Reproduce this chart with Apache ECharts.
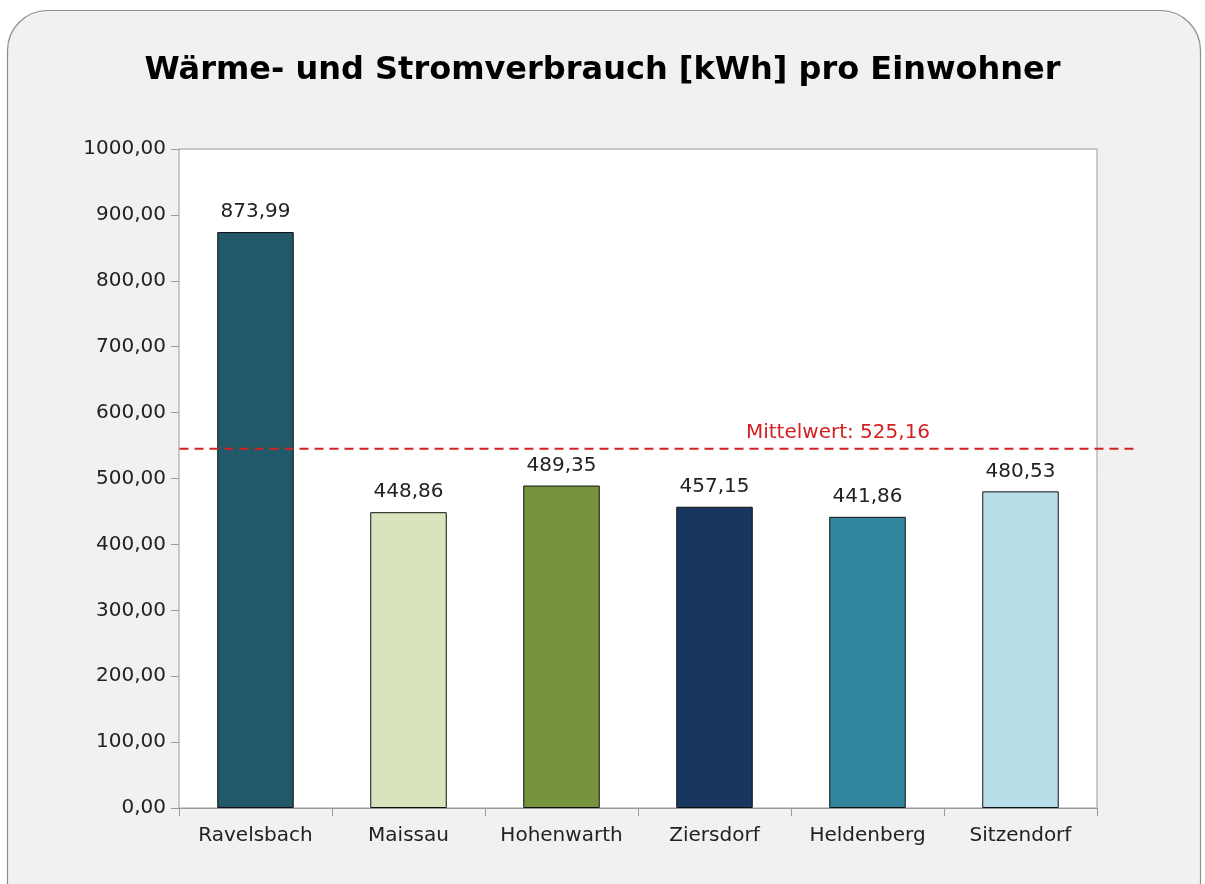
<!DOCTYPE html>
<html>
<head>
<meta charset="utf-8">
<script src="https://cdn.jsdelivr.net/npm/echarts@6/dist/echarts.min.js"></script>
<style>
  html, body { margin: 0; padding: 0; background: #fff; }
  #chart { width: 1205px; height: 884px; }
</style>
</head>
<body>
<div id="chart"></div>
<script>
var categories = ['Ravelsbach', 'Maissau', 'Hohenwarth', 'Ziersdorf', 'Heldenberg', 'Sitzendorf'];
var values = [873.99, 448.86, 489.35, 457.15, 441.86, 480.53];
var barColors = ['#215968', '#d7e4bd', '#77933c', '#17375e', '#31859c', '#b7dee8'];
var meanLabel = 'Mittelwert: 525,16';
var meanLineAt = 545;   // where the dashed line sits in the picture
var yTicks = [0, 100, 200, 300, 400, 500, 600, 700, 800, 900, 1000];

var fontName = 'DejaVu Sans';

function fmt(v) {
    return v.toFixed(2).replace('.', ',');
}

var chart = echarts.init(document.getElementById('chart'));
var option = {
    backgroundColor: '#fff',
    animation: false,
    title: {
        text: 'Wärme- und Stromverbrauch [kWh] pro Einwohner',
        left: 'center',
        top: 50,
        textStyle: { fontFamily: fontName, fontWeight: 'bold', fontSize: 32, color: '#000' }
    },
    grid: {
        left: 179, right: 108, top: 149, bottom: 76,
        show: true,
        backgroundColor: '#fff',
        borderColor: '#9a9a9a',
        borderWidth: 1,
        z: 1
    },
    xAxis: {
        type: 'category',
        data: categories,
        axisLine: { lineStyle: { color: '#9a9a9a' } },
        axisTick: { show: true, interval: 0, length: 8, lineStyle: { color: '#9a9a9a' } },
        axisLabel: { interval: 0, fontFamily: fontName, fontSize: 20, color: '#222', margin: 18 }
    },
    yAxis: {
        type: 'value',
        min: yTicks[0],
        max: yTicks[yTicks.length - 1],
        interval: 100,
        axisLine: { show: true, lineStyle: { color: '#9a9a9a' } },
        axisTick: { show: true, length: 8, lineStyle: { color: '#9a9a9a' } },
        splitLine: { lineStyle: { color: '#a6a6a6' } },
        axisLabel: { fontFamily: fontName, fontSize: 20, color: '#222', margin: 13,
            formatter: function (v) { return fmt(v); } }
    },
    series: [{
        type: 'bar',
        barWidth: '50%',
        data: values.map(function (v, i) {
            return { value: v, itemStyle: { color: barColors[i] } };
        }),
        itemStyle: { borderColor: '#111', borderWidth: 1 },
        label: {
            show: true,
            position: 'top',
            distance: 8,
            fontFamily: fontName,
            fontSize: 20,
            color: '#222',
            backgroundColor: '#fff',
            padding: [2, 8],
            formatter: function (p) { return fmt(p.value); }
        }
    }]
};
chart.setOption(option);

// outer rounded frame, dashed mean line and its label, placed via the chart's scales
var yMean = chart.convertToPixel({ yAxisIndex: 0 }, meanLineAt);
var xLeft = chart.convertToPixel({ xAxisIndex: 0 }, categories[0]) - 76;
chart.setOption({
    graphic: [
        {
            type: 'rect', z: -10, silent: true,
            shape: { x: 7.5, y: 10.5, width: 1193, height: 920, r: 40 },
            style: { fill: '#f1f1f1', stroke: '#8c8c8c', lineWidth: 1.2 }
        },
        {
            type: 'line', z: 100, silent: true,
            shape: { x1: xLeft, y1: yMean, x2: 1137, y2: yMean },
            style: { stroke: '#d42020', lineWidth: 2, lineDash: [9, 6] }
        },
        {
            type: 'text', z: 100, silent: true,
            x: 838, y: yMean - 6,
            style: { text: meanLabel, fill: '#d42020', font: '20px "' + fontName + '"',
                     textAlign: 'center', textVerticalAlign: 'bottom' }
        }
    ]
});
</script>
</body>
</html>
